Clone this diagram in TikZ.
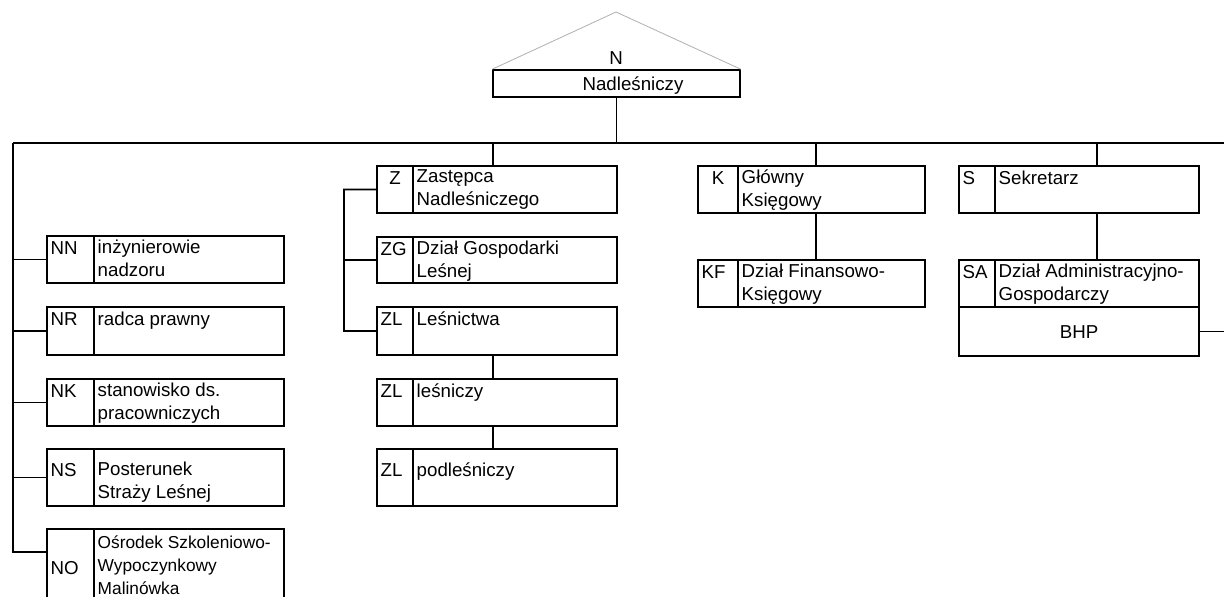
\documentclass[tikz,border=0pt]{standalone}
\usepackage{fontspec}
\setmainfont{Liberation Sans}
\usetikzlibrary{fit}

\newcommand{\orgfont}{\fontsize{13.3}{16.4}\selectfont}
\newcommand{\orgsmallfont}{\fontsize{12.3}{16.6}\selectfont}

\tikzset{
  cell/.style={draw, line width=1.1pt, inner sep=0pt},
  lbl/.style={inner sep=3pt, align=left, font=\orgfont,
              execute at begin node={\rule{0pt}{0.78em}}},
  link/.style={line width=1.1pt},
  codetop/.style={anchor=north west, at={(#1c.north west)}},
  codecen/.style={anchor=north, at={(#1c.north)}},
  codelow/.style={anchor=north west, at={(#1c.north west)}, yshift=-6.4pt},
  codeside/.style={anchor=west, at={(#1c.west)}},
  txttop/.style={anchor=north west, at={(#1t.north west)}},
  txtcen/.style={anchor=north west, at={(#1t.north west)}},
  txtlow/.style={anchor=north west, at={(#1t.north west)}, yshift=-6.4pt},
  txtside/.style={anchor=north west, at={(#1t.north west)}, yshift=-2pt, font=\orgsmallfont},
}

% unit: name, x left, x divider, x right, y top, y bottom, code, text, alignment
\newcommand{\orgunit}[9]{%
  \node[cell, fit={(#2,#5) (#3,#6)}] (#1c) {};
  \node[cell, fit={(#3,#5) (#4,#6)}] (#1t) {};
  \node[lbl, code#9=#1] (#1cl) {#7};
  \node[lbl, txt#9=#1] (#1tl) {#8};
}

\begin{document}
\begin{tikzpicture}[x=0.025cm, y=-0.025cm]
    \useasboundingbox (0,0) rectangle (1224,597);

    % Nadlesniczy
    \node[cell, fit={(493,70) (740,97)}] (Nbox) {};
    \coordinate (apex) at (616,12);
    \draw[gray!60, line width=0.6pt] (Nbox.north west) -- (apex) -- (Nbox.north east);
    \node[lbl] (Nl) at (616,57) {N};
    \node[lbl] (Nt) at (633,85.5) {Nadleśniczy};

    % main bus
    \coordinate (busL) at (13,143);
    \coordinate (busR) at (1224,143);
    \draw[link] (busL) -- (busR);
    \draw[link] (Nbox.south) -- (Nbox.south |- busL);

    % left column
    \orgunit{NN}{47}{94}{284}{236}{283}{NN}{inżynierowie\\nadzoru}{top}
    \orgunit{NR}{47}{94}{284}{307}{355}{NR}{radca prawny}{top}
    \orgunit{NK}{47}{94}{284}{379}{426}{NK}{stanowisko ds.\\pracowniczych}{top}
    \orgunit{NS}{47}{94}{284}{449}{506}{NS}{Posterunek\\Straży Leśnej}{low}
    \orgunit{NO}{47}{94}{284}{529}{606}{NO}{Ośrodek Szkoleniowo-\\Wypoczynkowy\\Malinówka}{side}
    \coordinate (nostub) at (13,552);
    \draw[link] (busL) -- (nostub) -- (nostub -| NOc.west);
    \foreach \u in {NN,NR,NK,NS} {
        \draw[link] (\u c.west) -- (\u c.west -| busL);
    }

    % Zastepca column
    \orgunit{Z}{377}{413}{617}{166}{213}{Z}{Zastępca\\Nadleśniczego}{cen}
    \orgunit{ZG}{377}{413}{617}{237}{283}{ZG}{Dział Gospodarki\\Leśnej}{top}
    \orgunit{ZL1}{377}{413}{617}{307}{355}{ZL}{Leśnictwa}{top}
    \orgunit{ZL2}{377}{413}{617}{379}{426}{ZL}{leśniczy}{top}
    \orgunit{ZL3}{377}{413}{617}{449}{506}{ZL}{podleśniczy}{low}
    \coordinate (zdrop) at (493,166);
    \coordinate (zbar) at (344,189.5);
    \draw[link] (zdrop) -- (zdrop |- busL);
    \draw[link] (Zc.west) -- (zbar) |- (ZL1c.west);
    \draw[link] (ZGc.west) -- (ZGc.west -| zbar);
    \draw[link] (ZL1t.south -| zdrop) -- (ZL2t.north -| zdrop);
    \draw[link] (ZL2t.south -| zdrop) -- (ZL3t.north -| zdrop);

    % Ksiegowy column
    \orgunit{K}{698}{738}{925}{166}{213}{K}{Główny\\Księgowy}{cen}
    \orgunit{KF}{698}{738}{925}{260}{307}{KF}{Dział Finansowo-\\Księgowy}{top}
    \coordinate (kdrop) at (816,166);
    \draw[link] (kdrop) -- (kdrop |- busL);
    \draw[link] (Kt.south -| kdrop) -- (KFt.north -| kdrop);

    % Sekretarz column
    \orgunit{S}{959}{995}{1199}{166}{213}{S}{Sekretarz}{top}
    \orgunit{SA}{959}{995}{1199}{260}{307}{SA}{Dział Administracyjno-\\Gospodarczy}{top}
    \node[cell, fit={(959,307) (1199,356)}] (BHP) {};
    \node[lbl] (BHPl) at (BHP.center) {BHP};
    \coordinate (sdrop) at (1097,166);
    \draw[link] (sdrop) -- (sdrop |- busL);
    \draw[link] (St.south -| sdrop) -- (SAt.north -| sdrop);
    \draw[link] (BHP.east) -- (BHP.east -| busR);

\end{tikzpicture}
\end{document}
